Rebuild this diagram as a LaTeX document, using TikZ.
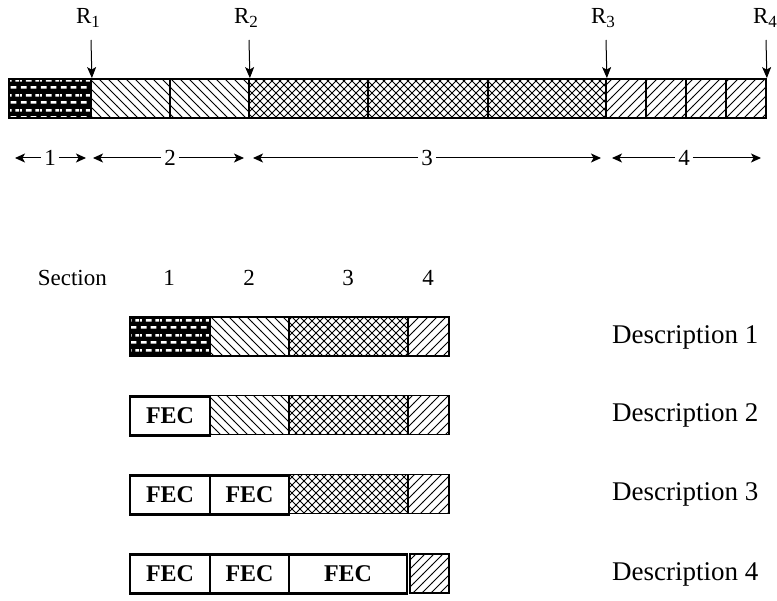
\documentclass[tikz,border=0pt]{standalone}
\usepackage{fontspec}
\setmainfont{Liberation Serif}
\usetikzlibrary{patterns,arrows.meta}
\pgfdeclarepatternformonly{nwl}{\pgfqpoint{-1pt}{-1pt}}{\pgfqpoint{10pt}{10pt}}{\pgfqpoint{9pt}{9pt}}{%
  \pgfsetlinewidth{0.8pt}%
  \pgfpathmoveto{\pgfqpoint{-0.1pt}{9.1pt}}\pgfpathlineto{\pgfqpoint{9.1pt}{-0.1pt}}%
  \pgfusepath{stroke}}
\pgfdeclarepatternformonly{nel}{\pgfqpoint{-1pt}{-1pt}}{\pgfqpoint{10pt}{10pt}}{\pgfqpoint{9pt}{9pt}}{%
  \pgfsetlinewidth{0.8pt}%
  \pgfpathmoveto{\pgfqpoint{-0.1pt}{-0.1pt}}\pgfpathlineto{\pgfqpoint{9.1pt}{9.1pt}}%
  \pgfusepath{stroke}}
\pgfdeclarepatternformonly{xhatch}{\pgfqpoint{-1pt}{-1pt}}{\pgfqpoint{9pt}{9pt}}{\pgfqpoint{8pt}{8pt}}{%
  \pgfsetlinewidth{0.8pt}%
  \pgfpathmoveto{\pgfqpoint{-0.1pt}{-0.1pt}}\pgfpathlineto{\pgfqpoint{8.1pt}{8.1pt}}%
  \pgfpathmoveto{\pgfqpoint{-0.1pt}{8.1pt}}\pgfpathlineto{\pgfqpoint{8.1pt}{-0.1pt}}%
  \pgfusepath{stroke}}
\pgfdeclarepatternformonly{bricksw}{\pgfqpoint{0pt}{0pt}}{\pgfqpoint{20pt}{15pt}}{\pgfqpoint{20pt}{15pt}}{%
  \pgfpathrectangle{\pgfqpoint{1pt}{2.4pt}}{\pgfqpoint{6pt}{2.6pt}}%
  \pgfpathrectangle{\pgfqpoint{11pt}{2.4pt}}{\pgfqpoint{6pt}{2.6pt}}%
  \pgfpathrectangle{\pgfqpoint{6pt}{9.9pt}}{\pgfqpoint{6pt}{2.6pt}}%
  \pgfpathrectangle{\pgfqpoint{16pt}{9.9pt}}{\pgfqpoint{4pt}{2.6pt}}%
  \pgfpathrectangle{\pgfqpoint{0pt}{9.9pt}}{\pgfqpoint{2pt}{2.6pt}}%
  \pgfusepath{fill}}
\tikzset{
  seg/.style={draw, line width=1.8pt, inner sep=0pt, minimum height=39pt},
  fseg/.style={seg, line width=2.4pt},
  pdark/.style={preaction={fill=black}, pattern=bricksw, pattern color=white},
  pnw/.style={pattern=nwl},
  pne/.style={pattern=nel},
  pxx/.style={pattern=xhatch},
  txt/.style={font=\fontsize{23}{27}\selectfont, inner sep=0pt},
  desc/.style={font=\fontsize{27}{31}\selectfont, inner sep=0pt, anchor=west},
  fec/.style={font=\fontsize{24}{28}\selectfont\bfseries},
  dimlbl/.style={font=\fontsize{23}{27}\selectfont, inner sep=3pt},
  dimarr/.style={line width=1pt, -{Stealth[length=10pt,width=9pt,inset=2.5pt]}},
  downarr/.style={line width=1pt, -{Stealth[length=11pt,width=9pt,inset=2.5pt]}},
}
\newcommand{\Rlab}[1]{R\raisebox{-0.45ex}{\fontsize{17}{17}\selectfont #1}}
\begin{document}
\begin{tikzpicture}[x=1pt,y=-1pt]
\useasboundingbox (0,0) rectangle (777,601);

% ---------- top bar ----------
\node[seg,pdark,minimum width=82pt] (t1) at (50,98.5) {};
\node[seg,pnw,minimum width=79pt] (t2) at (130.5,98.5) {};
\node[seg,pnw,minimum width=79pt] (t3) at (209.5,98.5) {};
\node[seg,pxx,minimum width=119pt] (t4) at (308.5,98.5) {};
\node[seg,pxx,minimum width=120pt] (t5) at (428,98.5) {};
\node[seg,pxx,minimum width=118pt] (t6) at (547,98.5) {};
\node[seg,pne,minimum width=40pt] (t7) at (626,98.5) {};
\node[seg,pne,minimum width=40pt] (t8) at (666,98.5) {};
\node[seg,pne,minimum width=40pt] (t9) at (706,98.5) {};
\node[seg,pne,minimum width=40pt] (t10) at (746,98.5) {};

% ---------- R markers ----------
\node[txt] (R1) at (88,18) {\Rlab{1}};
\node[txt] (R2) at (246,18) {\Rlab{2}};
\node[txt] (R3) at (603,18) {\Rlab{3}};
\node[txt] (R4) at (765,18) {\Rlab{4}};
\coordinate (a1) at (91,40); \coordinate (a2) at (249,40);
\coordinate (a3) at (606,40); \coordinate (a4) at (766,40);
\draw[downarr] (a1) -- (t1.north east);
\draw[downarr] (a2) -- (t3.north east);
\draw[downarr] (a3) -- (t6.north east);
\draw[downarr] (a4) -- (t10.north east);

% ---------- dimension lines ----------
\coordinate (d1l) at (15,158); \coordinate (d1r) at (86,158);
\coordinate (d2l) at (93,158); \coordinate (d2r) at (244,158);
\coordinate (d3l) at (253,158); \coordinate (d3r) at (601,158);
\coordinate (d4l) at (612,158); \coordinate (d4r) at (761,158);
\node[dimlbl] (n1) at (50,158) {1};
\node[dimlbl] (n2) at (170,158) {2};
\node[dimlbl] (n3) at (427,158) {3};
\node[dimlbl] (n4) at (684,158) {4};
\draw[dimarr] (n1) -- (d1l); \draw[dimarr] (n1) -- (d1r);
\draw[dimarr] (n2) -- (d2l); \draw[dimarr] (n2) -- (d2r);
\draw[dimarr] (n3) -- (d3l); \draw[dimarr] (n3) -- (d3r);
\draw[dimarr] (n4) -- (d4l); \draw[dimarr] (n4) -- (d4r);

% ---------- section header ----------
\node[txt,anchor=east] (sec) at (107,278) {Section};
\node[txt] (s1) at (169,278) {1};
\node[txt] (s2) at (249,278) {2};
\node[txt] (s3) at (348,278) {3};
\node[txt] (s4) at (428,278) {4};

% ---------- description 1 ----------
\node[seg,pdark,minimum width=80pt] (a11) at (170,336.5) {};
\node[seg,pnw,minimum width=79pt] (a12) at (249.5,336.5) {};
\node[seg,pxx,minimum width=119pt] (a13) at (348.5,336.5) {};
\node[seg,pne,minimum width=41pt] (a14) at (428.5,336.5) {};
\node[desc] (D1) at (612,337) {Description 1};

% ---------- description 2 ----------
\node[seg,pnw,minimum width=79pt] (a22) at (249.5,415) {};
\node[seg,pxx,minimum width=119pt] (a23) at (348.5,415) {};
\node[seg,pne,minimum width=41pt] (a24) at (428.5,415) {};
\node[fseg,fec,minimum width=80pt] (a21) at (170,416) {FEC};
\node[desc] (D2) at (612,415.5) {Description 2};

% ---------- description 3 ----------
\node[seg,pxx,minimum width=119pt] (a33) at (348.5,494) {};
\node[seg,pne,minimum width=41pt] (a34) at (428.5,494) {};
\node[fseg,fec,minimum width=80pt] (a31) at (170,495) {FEC};
\node[fseg,fec,minimum width=79pt] (a32) at (249.5,495) {FEC};
\node[desc] (D3) at (612,494.5) {Description 3};

% ---------- description 4 ----------
\node[fseg,fec,minimum width=80pt] (a41) at (170,574) {FEC};
\node[fseg,fec,minimum width=79pt] (a42) at (249.5,574) {FEC};
\node[fseg,fec,minimum width=118pt] (a43) at (348,574) {FEC};
\node[seg,pne,minimum width=39pt] (a44) at (429.5,573.5) {};
\node[desc] (D4) at (612,574) {Description 4};
\end{tikzpicture}
\end{document}
